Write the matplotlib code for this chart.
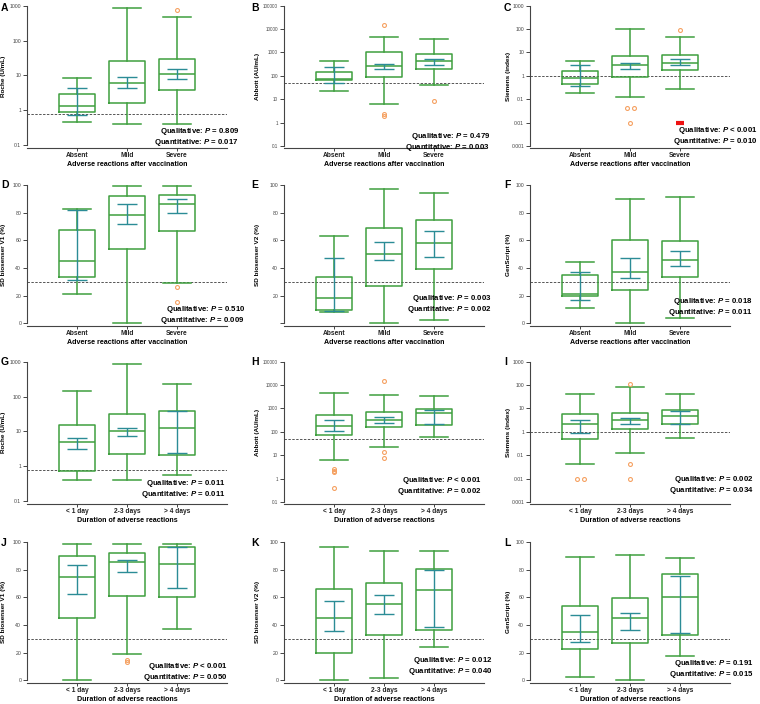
import matplotlib
matplotlib.use("Agg")
import matplotlib.pyplot as plt
from matplotlib.ticker import FixedLocator, NullLocator
from collections import Counter

plt.rcParams['font.family'] = ['Liberation Sans', 'DejaVu Sans']
plt.rcParams['mathtext.fontset'] = 'custom'
plt.rcParams['mathtext.bfit'] = 'Liberation Sans:bold:italic'
plt.rcParams['mathtext.bf'] = 'Liberation Sans:bold'

# groups
adverse = ["Absent", "Mild", "Severe"]
duration = ["< 1 day", "2-3 days", "> 4 days"]

# box stats per group: [whisker low, q1, median, q3, whisker high]
A_box = [[0.45, 0.86, 1.3, 2.9, 8.4], [0.39, 1.6, 6.2, 26, 900], [0.39, 3.9, 10.7, 30, 475]]
A_ci = [[0.75, 4.4], [4.4, 9.2], [8.0, 15.5]]
A_out = [[], [], [750]]

B_box = [[23, 65, 75, 150, 410], [6.3, 90, 260, 1000, 4600], [41, 193, 425, 850, 3900]]
B_ci = [[48, 230], [190, 330], [300, 520]]
B_out = [[], [15000, 2.4, 1.9], [8]]

C_box = [[0.19, 0.44, 0.77, 1.53, 4.1], [0.118, 0.9, 2.9, 6.7, 105], [0.28, 1.75, 3.6, 7.7, 47]]
C_ci = [[0.35, 2.9], [1.93, 3.7], [2.9, 5.2]]
C_out = [[], [0.04, 0.04, 0.01], [90]]

D_box = [[20.8, 33.8, 45.4, 67.8, 82.7], [0, 53.9, 78.7, 92.2, 99], [29.3, 66.4, 86.5, 93.1, 99]]
D_ci = [[31, 82], [71.6, 86.5], [80.1, 90]]
D_out = [[], [], [26, 15.6]]

E_box = [[8, 9.9, 18.2, 33.2, 63.5], [0, 26.8, 49.8, 69.2, 97.4], [2.6, 39.6, 58, 74.4, 94.5]]
E_ci = [[9.2, 47], [45.5, 58.5], [47.9, 66.4]]
E_out = [[], [], []]

F_box = [[11.3, 19.4, 21, 35, 44.4], [0, 23.9, 37.4, 60.3, 89.8], [4, 33.8, 45.6, 59.3, 91.5]]
F_ci = [[17, 37.4], [33.1, 47.3], [41.4, 52]]
F_out = [[], [], []]

G_box = [[0.4, 0.75, 5, 15.5, 150], [0.4, 2.2, 10, 32, 900], [0.55, 2.1, 12.5, 38, 230]]
G_ci = [[3.2, 6.5], [7.5, 13], [2.4, 38]]
G_out = [[], [], []]

H_box = [[6, 72, 180, 500, 4600], [23, 155, 310, 720, 3800], [60, 200, 650, 950, 3400]]
H_ci = [[105, 310], [250, 410], [220, 900]]
H_out = [[2.6, 2.2, 1.9, 0.4], [15000, 14, 7.5], []]

I_box = [[0.04, 0.47, 2.2, 6, 42], [0.12, 1.3, 3.3, 6.3, 80], [0.52, 2.1, 4.6, 8.8, 42]]
I_ci = [[0.9, 3.3], [2.25, 3.9], [2.25, 8]]
I_out = [[0.01, 0.01], [110, 0.04, 0.01], []]

J_box = [[0, 45.2, 74.8, 90.1, 98.4], [18.8, 61.2, 85.4, 92.2, 98.6], [37, 60.5, 84, 96.5, 98.6]]
J_ci = [[62.1, 83.3], [78.6, 87], [66.8, 96.5]]
J_out = [[], [13, 15], []]

K_box = [[0, 20, 45.4, 66, 96.5], [1.9, 33, 55.3, 70.4, 93.6], [24, 36.2, 65.6, 80.7, 93.9]]
K_ci = [[35.3, 57.6], [48, 61.6], [38.6, 80]]
K_out = [[], [], []]

L_box = [[2.1, 22.4, 34.6, 53.9, 89.4], [0, 26.6, 44.7, 59.5, 91], [17.9, 33, 60, 76.7, 88.5]]
L_ci = [[27.5, 47], [36.7, 48.5], [34.4, 75.8]]
L_out = [[], [], []]

p_qual = ["= 0.809", "= 0.479", "< 0.001", "= 0.510", "= 0.003", "= 0.018",
          "= 0.011", "< 0.001", "= 0.002", "< 0.001", "= 0.012", "= 0.191"]
p_quant = ["= 0.017", "= 0.003", "= 0.010", "= 0.009", "= 0.002", "= 0.011",
           "= 0.011", "= 0.002", "= 0.034", "= 0.050", "= 0.040", "= 0.015"]

assays = {
    "roche": ("Roche (U/mL)", "log", [0.1, 1, 10, 100, 1000], 0.8),
    "abbott": ("Abbott (AU/mL)", "log", [0.1, 1, 10, 100, 1000, 10000, 100000], 50),
    "siemens": ("Siemens (index)", "log", [0.001, 0.01, 0.1, 1, 10, 100, 1000], 1),
    "sdv1": ("SD biosenser V1 (%)", "lin", [0, 20, 40, 60, 80, 100], 30),
    "sdv2": ("SD biosenser V2 (%)", "lin", [0, 20, 40, 60, 80, 100], 30),
    "gen": ("GenScript (%)", "lin", [0, 20, 40, 60, 80, 100], 30),
}

panels = [
    ("A", "roche", A_box, A_ci, A_out), ("B", "abbott", B_box, B_ci, B_out),
    ("C", "siemens", C_box, C_ci, C_out), ("D", "sdv1", D_box, D_ci, D_out),
    ("E", "sdv2", E_box, E_ci, E_out), ("F", "gen", F_box, F_ci, F_out),
    ("G", "roche", G_box, G_ci, G_out), ("H", "abbott", H_box, H_ci, H_out),
    ("I", "siemens", I_box, I_ci, I_out), ("J", "sdv1", J_box, J_ci, J_out),
    ("K", "sdv2", K_box, K_ci, K_out), ("L", "gen", L_box, L_ci, L_out),
]

green = "#3f9f3f"
teal = "#2b8c96"
orange = "#f5a060"

W, H = 760, 704
fig = plt.figure(figsize=(7.6, 7.04), dpi=100)
col_left = [27, 284, 530]
row_top = [5, 183, 361, 540]
aw, ah = 200, 143
ylab_x = [6, 260, 511]
letter_x = [1, 251, 504]
letter_y = [8, 185, 362, 543]
# right edge (px) and centre y (px) of the p-value block, per panel
p_pos = [(239, 137), (490, 142), (758, 136), (245, 315), (492, 304), (753, 307),
         (226, 489), (482, 486), (754, 485), (228, 672), (493, 666), (754, 669)]

def fmt(v):
    if v >= 1:
        return str(int(v))
    return ("%g" % v)

for i, (letter, key, box, ci, out) in enumerate(panels):
    r, c = divmod(i, 3)
    ylabel, scale, ticks, cutoff = assays[key]
    ax = fig.add_axes([col_left[c] / W, 1 - (row_top[r] + ah) / H, aw / W, ah / H])
    groups = adverse if r < 2 else duration

    stats = []
    for b in box:
        stats.append(dict(whislo=b[0], q1=b[1], med=b[2], q3=b[3], whishi=b[4], fliers=[]))
    lp = dict(color=green, linewidth=1.1)
    ax.bxp(stats, positions=[1, 2, 3], widths=0.72, showfliers=False,
           boxprops=lp, whiskerprops=lp, capprops=lp, medianprops=lp,
           capwidths=0.56, manage_ticks=False)

    for x, (lo, hi) in zip([1, 2, 3], ci):
        mid = (lo + hi) / 2
        ax.errorbar([x], [mid], yerr=[[mid - lo], [hi - mid]],
                    fmt="none", ecolor=teal, elinewidth=1.0, capsize=7, capthick=1.0, zorder=4)

    for x, vals in zip([1, 2, 3], out):
        cnt = Counter(vals)
        for v, n in cnt.items():
            offs = [0] if n == 1 else [-0.07 * (n - 1) + 0.14 * k for k in range(n)]
            for o in offs:
                ax.plot(x + o, v, "o", ms=2.8, mfc="none", mec=orange, mew=0.8, zorder=5)

    if letter == "C":
        ax.plot(3, 0.01, marker="_", ms=6, mew=3, color="#ee1111", zorder=6)

    ax.axhline(cutoff, color="#555555", lw=0.7, ls=(0, (2.5, 1.5)), zorder=1)

    labels = [fmt(t) for t in ticks]
    if letter == "E":
        labels[0] = ""
    if scale == "log":
        ax.set_yscale("log")
        ax.set_ylim(ticks[0] * 10 ** -0.09, ticks[-1] * 10 ** 0.03)
    else:
        ax.set_ylim(-2, 101.5)
    ax.yaxis.set_major_locator(FixedLocator(ticks))
    ax.set_yticklabels(labels)
    ax.yaxis.set_minor_locator(NullLocator())
    ax.spines["left"].set_bounds(ticks[0], ticks[-1])

    ax.set_xlim(0, 4)
    ax.set_xticks([1, 2, 3])
    ax.set_xticklabels(groups, fontsize=4.8, fontweight="bold")
    ax.spines["top"].set_visible(False)
    ax.spines["right"].set_visible(False)
    for s in ("left", "bottom"):
        ax.spines[s].set_color("#444444")
        ax.spines[s].set_linewidth(0.8)
    ysize = 3.3 if key == "abbott" else 3.7
    ax.tick_params(axis="y", which="major", labelsize=ysize, length=3, width=0.7, pad=1.2, colors="#444444")
    ax.tick_params(axis="x", length=2, width=0.7, pad=1.2, colors="#444444")
    for lab in ax.get_xticklabels():
        lab.set_color("#222222")

    ax.set_ylabel(ylabel, fontsize=4.6, fontweight="bold")
    ax.yaxis.set_label_coords((ylab_x[c] - col_left[c]) / aw, 0.5)
    ax.set_xlabel("Adverse reactions after vaccination" if r < 2 else "Duration of adverse reactions",
                  fontsize=5.1, fontweight="bold", labelpad=0.8)

    px, py = p_pos[i]
    fig.text(px / W, 1 - py / H,
             "Qualitative: $\\mathbfit{P}$ " + p_qual[i] + "\nQuantitative: $\\mathbfit{P}$ " + p_quant[i],
             ha="right", va="center", multialignment="right", fontsize=5.6, fontweight="bold",
             linespacing=1.05)

    fig.text(letter_x[c] / W, 1 - letter_y[r] / H, letter, fontsize=7.5,
             fontweight="bold", ha="left", va="center")

fig.savefig("out.png", dpi=100)
